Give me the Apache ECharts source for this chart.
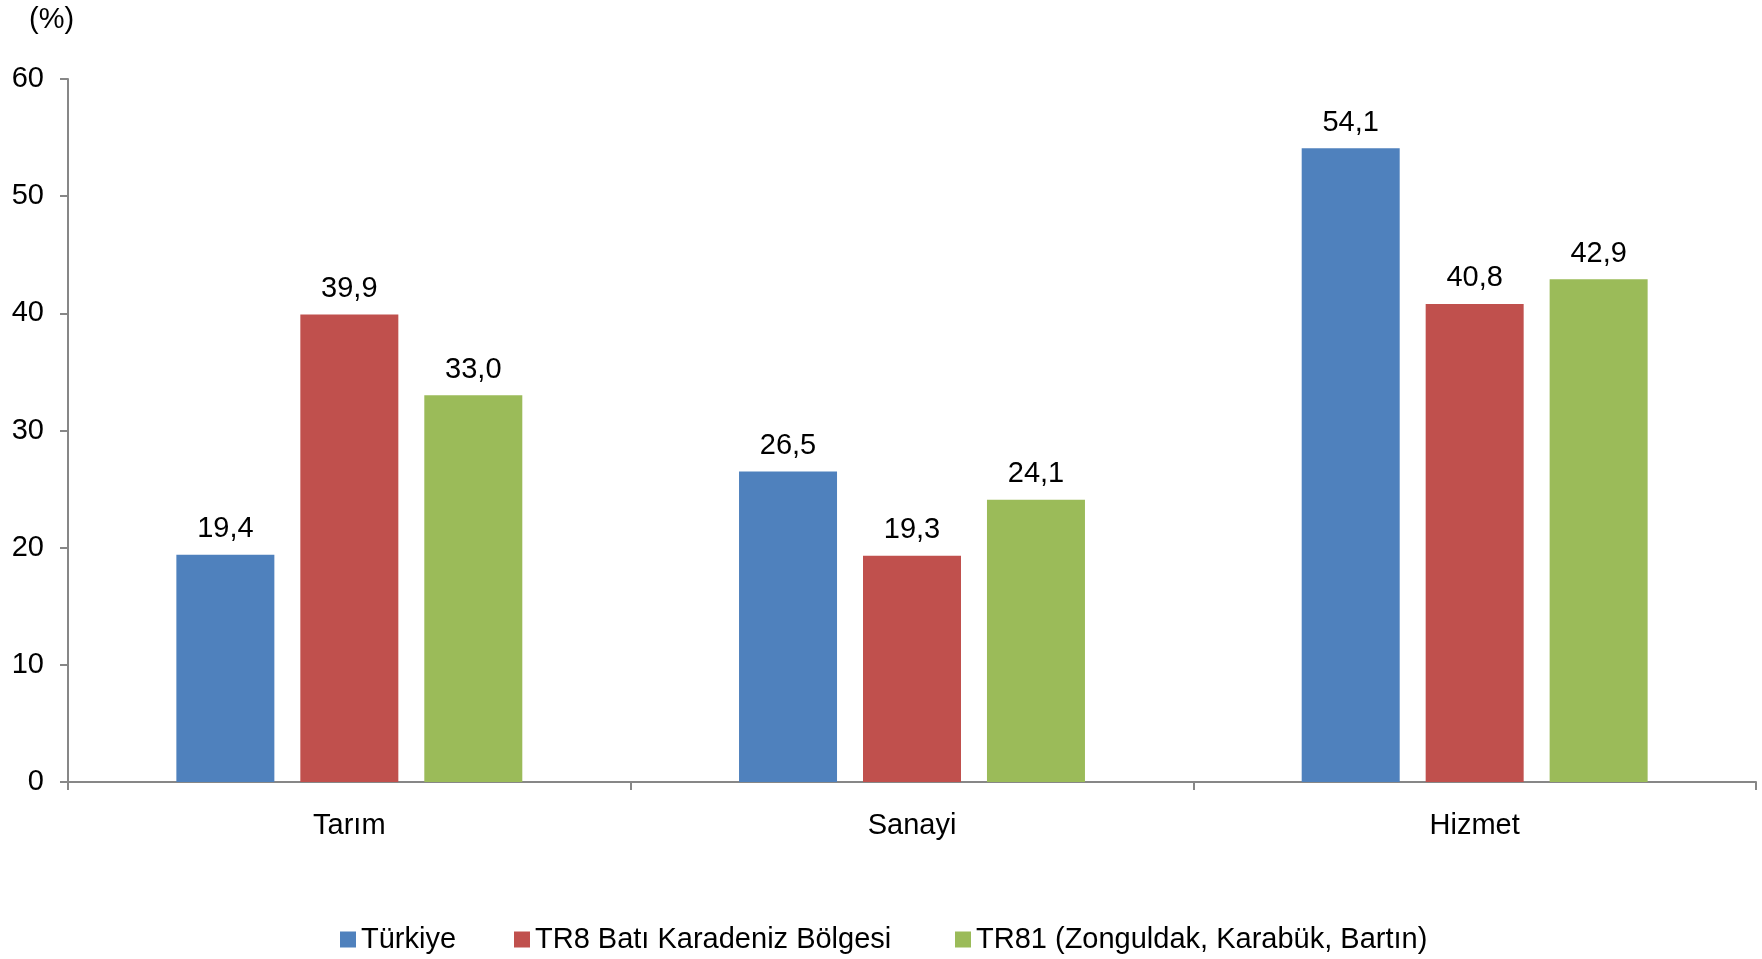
<!DOCTYPE html>
<html>
<head>
<meta charset="utf-8">
<script src="https://cdn.jsdelivr.net/npm/echarts@6/dist/echarts.min.js"></script>
<style>
html,body{margin:0;padding:0;background:#fff;}
#chart{width:1762px;height:959px;}
</style>
</head>
<body>
<div id="chart"></div>
<script>
const categories = ['Tarım', 'Sanayi', 'Hizmet'];
const seriesNames = ['Türkiye', 'TR8 Batı Karadeniz Bölgesi', 'TR81 (Zonguldak, Karabük, Bartın)'];
const turkiye = [19.4, 26.5, 54.1];
const tr8 = [39.9, 19.3, 40.8];
const tr81 = [33.0, 24.1, 42.9];
const yTicks = { min: 0, max: 60, interval: 10 };

const colors = ['#4F81BD', '#C0504D', '#9BBB59'];
const font = 'Liberation Sans, Arial, sans-serif';
const FS = 29;
const chart = echarts.init(document.getElementById('chart'));

const fmt = p => p.value.toFixed(1).replace('.', ',');
function mkSeries(name, data, color) {
  return {
    name: name, type: 'bar', data: data, barWidth: 98, barGap: '26.5%',
    itemStyle: { color: color },
    label: { show: true, position: 'top', distance: 11, formatter: fmt,
      color: '#000', fontSize: FS, fontFamily: font },
    emphasis: { disabled: true }
  };
}
const legendLefts = [335, 509, 950];
const legends = seriesNames.map((n, i) => ({
  data: [n], left: legendLefts[i], top: 920, itemWidth: 16, itemHeight: 16,
  icon: 'rect', selectedMode: false,
  textStyle: { color: '#000', fontSize: FS, fontFamily: font }
}));

chart.setOption({
  animation: false,
  color: colors,
  legend: legends,
  graphic: [{ type: 'text', left: 29, top: 5,
    style: { text: '(%)', fontSize: FS, fontFamily: font, fill: '#000' } }],
  grid: { left: 68, right: 6, top: 79, bottom: 177 },
  xAxis: {
    type: 'category', data: categories,
    axisLine: { lineStyle: { color: '#878787', width: 2 } },
    axisTick: { show: true, length: 8, lineStyle: { color: '#878787', width: 2 } },
    axisLabel: { color: '#000', fontSize: FS, fontFamily: font, margin: 29 }
  },
  yAxis: {
    type: 'value', min: yTicks.min, max: yTicks.max, interval: yTicks.interval,
    splitLine: { show: false },
    axisLine: { show: true, lineStyle: { color: '#878787', width: 2 } },
    axisTick: { show: true, length: 8, lineStyle: { color: '#878787', width: 2 } },
    axisLabel: { color: '#000', fontSize: FS, fontFamily: font, margin: 24 }
  },
  series: [
    mkSeries(seriesNames[0], turkiye, colors[0]),
    mkSeries(seriesNames[1], tr8, colors[1]),
    mkSeries(seriesNames[2], tr81, colors[2])
  ]
});
</script>
</body>
</html>
